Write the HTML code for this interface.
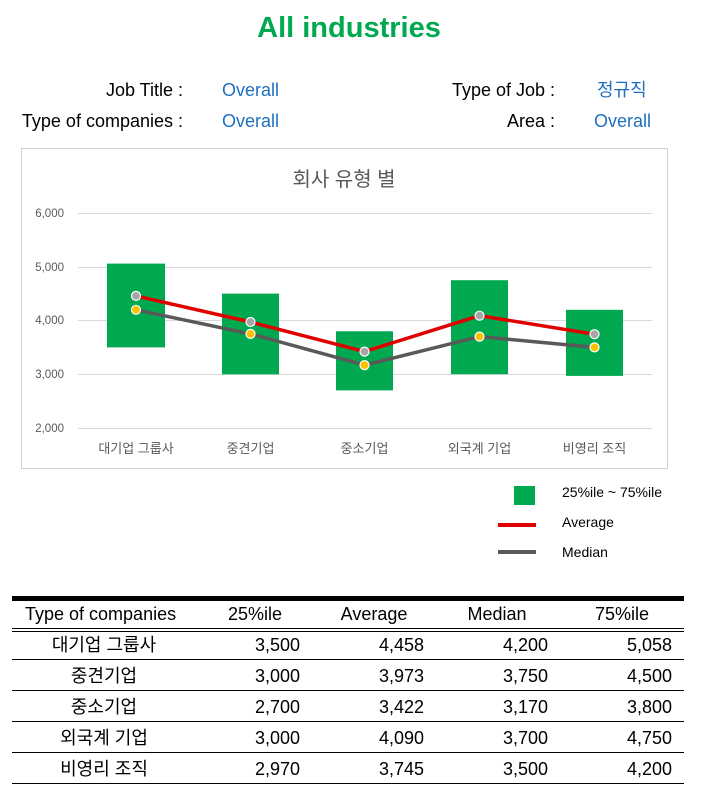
<!DOCTYPE html><html><head><meta charset="utf-8"><style>
body{margin:0;background:#fff;width:706px;height:789px;overflow:hidden}
svg text{font-family:"Liberation Sans","Noto Sans CJK KR",sans-serif}
</style></head><body>
<svg width="706" height="789" xmlns="http://www.w3.org/2000/svg">
<text x="349" y="37" text-anchor="middle" font-size="29" font-weight="bold" fill="#00a84f">All industries</text>
<g font-size="18" fill="#000">
<text x="183" y="96" text-anchor="end">Job Title :</text>
<text x="183" y="127" text-anchor="end">Type of companies :</text>
<text x="555" y="96" text-anchor="end">Type of Job :</text>
<text x="555" y="127" text-anchor="end">Area :</text>
</g>
<g font-size="18" fill="#1f6fbf">
<text x="222" y="96">Overall</text>
<text x="222" y="127">Overall</text>
<text x="597" y="96">정규직</text>
<text x="594" y="127">Overall</text>
</g>
<rect x="21.5" y="148.5" width="646" height="320" fill="#fff" stroke="#d0d0d0"/>
<text x="344" y="186" text-anchor="middle" font-size="20" fill="#595959">회사 유형 별</text>
<g stroke="#d9d9d9" stroke-width="1">
<line x1="78" x2="652" y1="213.5" y2="213.5"/><line x1="78" x2="652" y1="267.5" y2="267.5"/>
<line x1="78" x2="652" y1="320.5" y2="320.5"/><line x1="78" x2="652" y1="374.5" y2="374.5"/>
<line x1="78" x2="652" y1="428.5" y2="428.5"/></g>
<g font-size="11.5" fill="#595959" text-anchor="end">
<text x="64" y="217">6,000</text><text x="64" y="271">5,000</text><text x="64" y="324">4,000</text><text x="64" y="378">3,000</text><text x="64" y="432">2,000</text></g>
<g fill="#00a84f">
<rect x="107" y="263.6" width="58" height="83.8"/>
<rect x="222" y="293.6" width="57" height="80.7"/>
<rect x="336" y="331.3" width="57" height="59.1"/>
<rect x="451" y="280.2" width="57" height="94"/>
<rect x="566" y="309.8" width="57" height="66.1"/></g>
<polyline points="136,309.8 250.5,333.9 364.5,365.1 479.5,336.6 594.5,347.4" fill="none" stroke="#595959" stroke-width="3.5"/>
<polyline points="136,295.9 250.5,322 364.5,351.6 479.5,315.7 594.5,334.2" fill="none" stroke="#e00000" stroke-width="3.5"/>
<g fill="#a6a6a6" stroke="#fff" stroke-width="1.2">
<circle cx="136" cy="295.9" r="4.5"/><circle cx="250.5" cy="322" r="4.5"/><circle cx="364.5" cy="351.6" r="4.5"/><circle cx="479.5" cy="315.7" r="4.5"/><circle cx="594.5" cy="334.2" r="4.5"/></g>
<g fill="#ffc000" stroke="#fff" stroke-width="1.2">
<circle cx="136" cy="309.8" r="4.5"/><circle cx="250.5" cy="333.9" r="4.5"/><circle cx="364.5" cy="365.1" r="4.5"/><circle cx="479.5" cy="336.6" r="4.5"/><circle cx="594.5" cy="347.4" r="4.5"/></g>
<g font-size="13" fill="#595959" text-anchor="middle">
<text x="136" y="453">대기업 그룹사</text><text x="250.5" y="453">중견기업</text><text x="364.5" y="453">중소기업</text><text x="479.5" y="453">외국계 기업</text><text x="594.5" y="453">비영리 조직</text></g>
<rect x="514" y="486" width="21" height="19" fill="#00a84f"/>
<rect x="498" y="523" width="38" height="4" fill="#e00000"/>
<rect x="498" y="550" width="38" height="4" fill="#595959"/>
<g font-size="14" fill="#000">
<text x="562" y="497">25%ile ~ 75%ile</text><text x="562" y="527">Average</text><text x="562" y="557">Median</text></g>
<rect x="12" y="596" width="672" height="5" fill="#000"/>
<g font-size="18" fill="#000">
<text x="25" y="620">Type of companies</text>
<text x="255" y="620" text-anchor="middle">25%ile</text>
<text x="374" y="620" text-anchor="middle">Average</text>
<text x="497" y="620" text-anchor="middle">Median</text>
<text x="622" y="620" text-anchor="middle">75%ile</text></g>
<g stroke="#000"><line x1="12" x2="684" y1="628.5" y2="628.5"/><line x1="12" x2="684" y1="631.5" y2="631.5"/>
<line x1="12" x2="684" y1="659.5" y2="659.5"/><line x1="12" x2="684" y1="690.5" y2="690.5"/>
<line x1="12" x2="684" y1="721.5" y2="721.5"/><line x1="12" x2="684" y1="752.5" y2="752.5"/><line x1="12" x2="684" y1="783.5" y2="783.5"/></g>
<g font-size="18" fill="#000">
<g text-anchor="middle"><text x="104" y="651">대기업 그룹사</text><text x="104" y="682">중견기업</text><text x="104" y="713">중소기업</text><text x="104" y="744">외국계 기업</text><text x="104" y="775">비영리 조직</text></g>
<g text-anchor="end">
<text x="300" y="651">3,500</text><text x="424" y="651">4,458</text><text x="548" y="651">4,200</text><text x="672" y="651">5,058</text>
<text x="300" y="682">3,000</text><text x="424" y="682">3,973</text><text x="548" y="682">3,750</text><text x="672" y="682">4,500</text>
<text x="300" y="713">2,700</text><text x="424" y="713">3,422</text><text x="548" y="713">3,170</text><text x="672" y="713">3,800</text>
<text x="300" y="744">3,000</text><text x="424" y="744">4,090</text><text x="548" y="744">3,700</text><text x="672" y="744">4,750</text>
<text x="300" y="775">2,970</text><text x="424" y="775">3,745</text><text x="548" y="775">3,500</text><text x="672" y="775">4,200</text>
</g></g>
</svg></body></html>
